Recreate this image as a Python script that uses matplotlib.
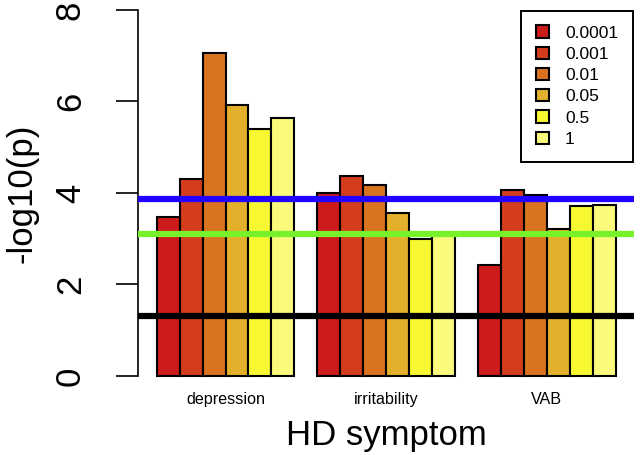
import numpy as np
import matplotlib
matplotlib.use("Agg")
import matplotlib.pyplot as plt
from matplotlib.patches import Patch

plt.rcParams['font.family'] = ['Liberation Sans', 'DejaVu Sans']

# Data
symptoms = ["depression", "irritability", "VAB"]
thresholds = ["0.0001", "0.001", "0.01", "0.05", "0.5", "1"]
depression = [3.47, 4.30, 7.05, 5.93, 5.40, 5.63]
irritability = [4.01, 4.36, 4.18, 3.57, 3.00, 3.10]
vab = [2.42, 4.07, 3.95, 3.21, 3.72, 3.74]
hlines = [3.87, 3.10, 1.31]
hline_colors = ["#2200FF", "#77F22A", "#000000"]
bar_colors = ["#CD1B1B", "#D43D1C", "#D9731F", "#E3B02B", "#F8F832", "#FAFA7C"]

values = [depression, irritability, vab]
n_bars = len(thresholds)

fig = plt.figure(figsize=(6.44, 4.55), dpi=100)
ax = fig.add_axes([138.3 / 644, 0.1415, 495.7 / 644, 0.8688])

# R-style beside barplot: one empty slot before each group
for g, vals in enumerate(values):
    lefts = 1 + g * (n_bars + 1) + np.arange(n_bars)
    ax.bar(lefts, vals, width=1, align='edge', color=bar_colors,
           edgecolor='black', linewidth=1.5, zorder=2)

for h, c in zip(hlines, hline_colors):
    ax.axhline(h, color=c, linewidth=4.5, zorder=3)

ax.set_xlim(0.2, 21.8)
ax.set_ylim(-0.32, 8.32)

centers = [1 + g * (n_bars + 1) + n_bars / 2 for g in range(len(symptoms))]
ax.set_xticks(centers)
ax.set_xticklabels(symptoms, fontsize=11.6)
ax.tick_params(axis='x', length=0, pad=1)

ax.set_yticks([0, 2, 4, 6, 8])
ax.tick_params(axis='y', length=16, width=1.2, labelsize=25, pad=21)
plt.setp(ax.get_yticklabels(), rotation=90, va='center')

for s in ['top', 'right', 'bottom']:
    ax.spines[s].set_visible(False)
ax.spines['left'].set_bounds(0, 8)
ax.spines['left'].set_linewidth(1.2)

ax.set_ylabel("-log10(p)", fontsize=25, va='center')
ax.yaxis.set_label_coords(-0.2346, 0.5)
ax.set_xlabel("HD symptom", fontsize=25, va='center')
ax.xaxis.set_label_coords(0.5, -0.1123)

handles = [Patch(facecolor=c, edgecolor='black', linewidth=1.5) for c in bar_colors]
leg = ax.legend(handles, thresholds, loc='upper right',
                bbox_to_anchor=(633 / 644, 1 - 10.7 / 455),
                bbox_transform=fig.transFigure, borderaxespad=0,
                fontsize=12.5, handlelength=0.8, handleheight=0.7,
                handletextpad=0.9, labelspacing=0.35, borderpad=0.85,
                fancybox=False, framealpha=1, edgecolor='black')
leg.get_frame().set_linewidth(1.4)
leg.set_zorder(5)

fig.savefig("out.png", dpi=100)
